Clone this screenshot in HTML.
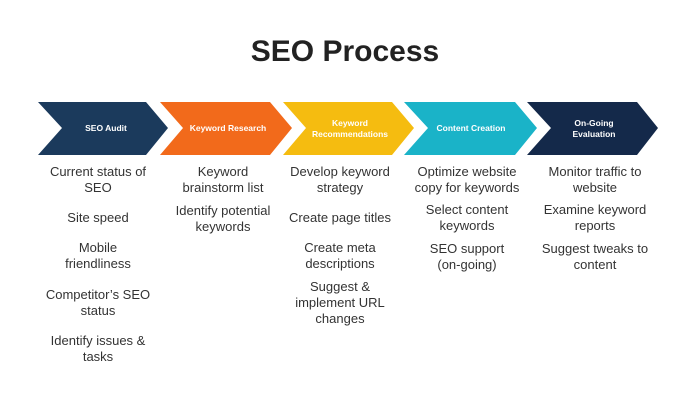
<!DOCTYPE html>
<html><head><style>
body{margin:0;width:690px;height:400px;background:#fff;position:relative;overflow:hidden;font-family:"Liberation Sans",sans-serif}
.t{position:absolute;left:0;width:690px;top:35px;text-align:center;font-weight:bold;font-size:30px;color:#222}
.c{position:absolute;width:130px;text-align:center;font-size:13px;line-height:16px;color:#333}
.c div{position:absolute;width:130px;left:0}
</style></head><body>
<div class="t">SEO Process</div>
<svg width="690" height="400" style="position:absolute;left:0;top:0" font-family="Liberation Sans" font-weight="bold" font-size="8.5" fill="#fff" text-anchor="middle">
<polygon points="38,102 146,102 168,128 146,155 38,155 62,128" fill="#1b3a5c"/>
<polygon points="160,102 270,102 292,128 270,155 160,155 183,128" fill="#f26a1b"/>
<polygon points="283,102 392,102 414,128 392,155 283,155 306,128" fill="#f5bc10"/>
<polygon points="404,102 515,102 537,128 515,155 404,155 428,128" fill="#1ab3c8"/>
<polygon points="527,102 637,102 658,128 637,155 527,155 551,128" fill="#14294a"/>
<text x="106" y="131">SEO Audit</text>
<text x="228" y="131">Keyword Research</text>
<text x="350" y="126">Keyword</text><text x="350" y="137">Recommendations</text>
<text x="471" y="131">Content Creation</text>
<text x="594" y="126">On-Going</text><text x="594" y="137">Evaluation</text>
</svg>
<div class="c" style="left:33px"><div style="top:164px">Current status of<br>SEO</div><div style="top:210px">Site speed</div><div style="top:240px">Mobile<br>friendliness</div><div style="top:287px">Competitor’s SEO<br>status</div><div style="top:333px">Identify issues &amp;<br>tasks</div></div>
<div class="c" style="left:158px"><div style="top:164px">Keyword<br>brainstorm list</div><div style="top:203px">Identify potential<br>keywords</div></div>
<div class="c" style="left:275px"><div style="top:164px">Develop keyword<br>strategy</div><div style="top:210px">Create page titles</div><div style="top:240px">Create meta<br>descriptions</div><div style="top:279px">Suggest &amp;<br>implement URL<br>changes</div></div>
<div class="c" style="left:402px"><div style="top:164px">Optimize website<br>copy for keywords</div><div style="top:202px">Select content<br>keywords</div><div style="top:241px">SEO support<br>(on-going)</div></div>
<div class="c" style="left:530px"><div style="top:164px">Monitor traffic to<br>website</div><div style="top:202px">Examine keyword<br>reports</div><div style="top:241px">Suggest tweaks to<br>content</div></div>
</body></html>
